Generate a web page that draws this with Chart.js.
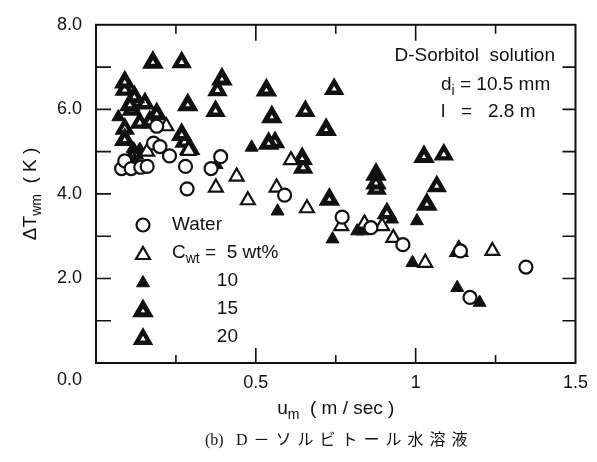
<!DOCTYPE html>
<html>
<head>
  <meta charset="UTF-8">
  <title>D-Sorbitol solution</title>
  <script src="https://cdn.jsdelivr.net/npm/chart.js"></script>
  <style>
    html, body { margin: 0; padding: 0; background: #fff; }
    #wrap { width: 597px; height: 462px; }
  </style>
</head>
<body>
  <div id="wrap"><canvas id="dtChart" width="597" height="462"></canvas></div>

  <script>
    // u_m (m/sec), dT_wm (K)
    const water = [[0.08,4.6],[0.09,4.78],[0.11,4.6],[0.14,4.63],[0.16,4.65],[0.19,5.6],[0.18,5.2],[0.2,5.12],[0.23,4.9],
      [0.28,4.65],[0.285,4.12],[0.36,4.6],[0.39,4.88],[0.59,3.97],[0.77,3.45],[0.86,3.2],[0.96,2.8],[1.14,2.65],[1.17,1.55],[1.345,2.27]];
    const wt5 = [[0.22,5.6],[0.16,5.0],[0.29,5.02],[0.44,4.41],[0.375,4.15],[0.565,4.15],[0.475,3.85],[0.61,4.8],[0.66,3.66],
      [0.767,3.24],[0.84,3.3],[0.895,3.24],[0.93,2.96],[1.03,2.37],[1.24,2.65]];
    const wt10 = [[0.07,5.82],[0.115,5.07],[0.137,5.05],[0.12,4.81],[0.13,4.6],[0.487,5.1],[0.377,4.69],[0.568,3.59],[0.74,2.93],
      [0.817,3.12],[0.835,3.12],[0.926,3.4],[1.004,3.36],[0.99,2.37],[1.13,1.78],[1.2,1.43]];
    const wt15 = [[0.178,7.11],[0.394,6.71],[0.533,6.45],[0.287,6.1],[0.55,5.82],[0.72,5.52],[0.54,5.19],[0.645,4.83],[1.026,4.88],
      [0.876,4.46],[0.876,4.25],[0.73,3.87],[1.035,3.75],[0.09,6.64],[0.12,6.29],[0.106,6.1],[0.19,5.89],[0.168,5.7],[0.09,5.28],
      [0.268,5.4],[0.293,5.07]];
    const wt20 = [[0.268,7.11],[0.38,6.45],[0.745,6.48],[0.374,5.96],[0.655,5.96],[0.56,5.22],[0.648,4.62],[1.088,4.93],[0.878,4.12],
      [1.066,4.18],[0.91,3.54],[1.135,2.65],[0.09,6.46],[0.128,6.17],[0.153,6.14],[0.137,5.68],[0.09,5.54],[0.277,5.23],[0.112,5.99],
      [0.12,4.95]];

    const xLabels = { 0.5: '0.5', 1: '1', 1.5: '1.5' };
    const yLabels = { 2: '2.0', 4: '4.0', 6: '6.0', 8: '8.0' };
    const legendNames = ['10', '15', '20'];

    const FONT = "'Liberation Sans', Arial, sans-serif";
    const INK = '#111';

    const toPts = arr => arr.map(p => ({ x: p[0], y: p[1] }));

    const datasets = [
      { label: 'Water', data: toPts(water), pointStyle: 'circle', pointRadius: 6.5, pointBorderWidth: 2.2,
        pointBackgroundColor: '#fff', pointBorderColor: INK },
      { label: '5 wt%', data: toPts(wt5), pointStyle: 'triangle', pointRadius: 8, pointBorderWidth: 2.2,
        pointBackgroundColor: '#fff', pointBorderColor: INK },
      { label: '10', data: toPts(wt10), pointStyle: 'triangle', pointRadius: 7.5, pointBorderWidth: 1,
        pointBackgroundColor: INK, pointBorderColor: INK },
      { label: '15', data: toPts(wt15), pointStyle: 'triangle', pointRadius: 7.5, pointBorderWidth: 5,
        pointBackgroundColor: '#fff', pointBorderColor: INK },
      { label: '20', data: toPts(wt20), pointStyle: 'triangle', pointRadius: 7.5, pointBorderWidth: 4.4,
        pointBackgroundColor: '#fff', pointBorderColor: INK }
    ];

    // text runs with optional subscripts
    function richWidth(ctx, parts, size) {
      let w = 0;
      parts.forEach(p => {
        ctx.font = (p.sub ? Math.round(size * 0.72) : size) + 'px ' + FONT;
        w += ctx.measureText(p.t).width;
      });
      return w;
    }
    function drawRich(ctx, parts, x, y, size, align) {
      let cx = x;
      if (align === 'center') cx = x - richWidth(ctx, parts, size) / 2;
      if (align === 'right') cx = x - richWidth(ctx, parts, size);
      ctx.textAlign = 'left';
      ctx.textBaseline = 'middle';
      parts.forEach(p => {
        const s = p.sub ? Math.round(size * 0.72) : size;
        ctx.font = s + 'px ' + FONT;
        ctx.fillText(p.t, cx, p.sub ? y + size * 0.32 : y);
        cx += ctx.measureText(p.t).width;
      });
    }

    const decor = {
      id: 'decor',
      afterDraw(chart) {
        const { ctx, chartArea: a, scales: { x, y } } = chart;
        ctx.save();
        ctx.strokeStyle = INK;
        ctx.fillStyle = INK;

        // frame
        ctx.lineWidth = 2;
        ctx.strokeRect(a.left, a.top, a.right - a.left, a.bottom - a.top);

        // inward ticks on all four sides
        ctx.lineWidth = 1.6;
        ctx.beginPath();
        x.ticks.forEach(t => {
          if (t.value <= 0 || t.value >= 1.5) return;
          const px = x.getPixelForValue(t.value);
          const major = Math.abs(t.value * 2 - Math.round(t.value * 2)) < 1e-6;
          ctx.moveTo(px, a.bottom); ctx.lineTo(px, a.bottom - (major ? 15 : 8));
          ctx.moveTo(px, a.top); ctx.lineTo(px, a.top + (major ? 16 : 9));
        });
        y.ticks.forEach(t => {
          if (t.value <= 0 || t.value >= 8) return;
          const py = y.getPixelForValue(t.value);
          ctx.moveTo(a.left, py); ctx.lineTo(a.left + 15, py);
          ctx.moveTo(a.right, py); ctx.lineTo(a.right - 13, py);
        });
        ctx.stroke();

        // shared origin label
        ctx.font = '18px ' + FONT;
        ctx.textAlign = 'right';
        ctx.textBaseline = 'middle';
        ctx.fillText('0.0', a.left - 14, a.bottom + 17);

        // axis titles
        ctx.save();
        ctx.translate(31, (a.top + a.bottom) / 2);
        ctx.rotate(-Math.PI / 2);
        drawRich(ctx, [{ t: 'ΔT' }, { t: 'wm', sub: true }, { t: '  ( K )' }], 0, 0, 19, 'center');
        ctx.restore();
        drawRich(ctx, [{ t: 'u' }, { t: 'm', sub: true }, { t: '  ( m / sec )' }], (a.left + a.right) / 2, 409, 19, 'center');

        // conditions
        drawRich(ctx, [{ t: 'D-Sorbitol  solution' }], 555, 56, 19, 'right');
        drawRich(ctx, [{ t: 'd' }, { t: 'i', sub: true }, { t: ' = 10.5 mm' }], 441, 85, 19, 'left');
        drawRich(ctx, [{ t: 'l   =   2.8 m' }], 441, 112, 19, 'left');

        // legend
        const rows = [225, 253, 281, 309, 337];
        chart.data.datasets.forEach((ds, i) => {
          ctx.fillStyle = ds.pointBackgroundColor;
          ctx.strokeStyle = ds.pointBorderColor;
          ctx.lineWidth = ds.pointBorderWidth;
          Chart.helpers.drawPoint(ctx, {
            pointStyle: ds.pointStyle, radius: ds.pointRadius, borderWidth: ds.pointBorderWidth, rotation: 0
          }, 143, rows[i] + (ds.pointStyle === 'triangle' ? 2 : 0));
        });
        ctx.fillStyle = INK;
        drawRich(ctx, [{ t: 'Water' }], 172, rows[0], 19, 'left');
        drawRich(ctx, [{ t: 'C' }, { t: 'wt', sub: true }, { t: ' =  5 wt%' }], 172, rows[1], 19, 'left');
        legendNames.forEach((n, i) => drawRich(ctx, [{ t: n }], 238, rows[i + 2], 19, 'right'));

        // caption: "(b)" set tight, the rest letter-spaced
        ctx.textAlign = 'left';
        ctx.textBaseline = 'middle';
        ctx.font = "16px 'Liberation Serif', 'Noto Sans CJK JP', serif";
        ctx.letterSpacing = '0px';
        ctx.fillText('(b)', 205, 441);
        ctx.letterSpacing = '6px';
        ctx.fillText('D－ソルビトール水溶液', 236, 441);
        ctx.restore();
      }
    };

    new Chart(document.getElementById('dtChart'), {
      type: 'scatter',
      data: { datasets },
      options: {
        responsive: false,
        animation: false,
        layout: { padding: { top: 22, right: 20, left: 0, bottom: 0 } },
        plugins: { legend: { display: false }, tooltip: { enabled: false } },
        scales: {
          x: {
            type: 'linear', min: 0, max: 1.5,
            grid: { display: false, drawTicks: false },
            border: { display: false },
            ticks: {
              stepSize: 0.25, autoSkip: false, maxRotation: 0, padding: 9,
              color: INK, font: { family: FONT, size: 18 },
              callback: v => xLabels[v] || ''
            },
            afterFit: s => { s.height = 99; }
          },
          y: {
            type: 'linear', min: 0, max: 8,
            grid: { display: false, drawTicks: false },
            border: { display: false },
            ticks: {
              stepSize: 1, autoSkip: false, padding: 14,
              color: INK, font: { family: FONT, size: 18 },
              callback: v => yLabels[v] || ''
            },
            afterFit: s => { s.width = 96; }
          }
        }
      },
      plugins: [decor]
    });
  </script>
</body>
</html>
